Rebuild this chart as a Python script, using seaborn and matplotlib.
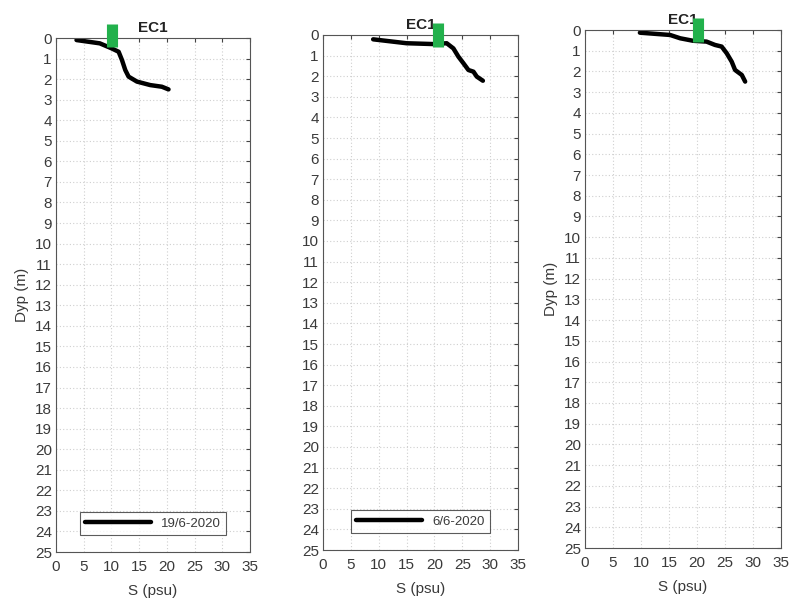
import numpy as np
import pandas as pd
import matplotlib
matplotlib.use("Agg")
import matplotlib.pyplot as plt
import seaborn as sns

# ---- data ----
s1 = [3.7, 7.9, 10.0, 11.3, 11.9, 12.5, 13.1, 14.6, 17.0, 19.1, 20.3]
d1 = [0.10, 0.26, 0.50, 0.67, 1.07, 1.56, 1.88, 2.12, 2.29, 2.37, 2.50]
s2 = [9.0, 15.0, 19.8, 22.2, 23.4, 24.3, 25.2, 26.1, 27.0, 27.6, 28.7]
d2 = [0.21, 0.40, 0.44, 0.40, 0.65, 1.05, 1.37, 1.70, 1.78, 2.02, 2.22]
s3 = [9.8, 15.2, 17.0, 19.3, 21.7, 23.2, 24.4, 25.3, 26.2, 26.8, 28.0, 28.6]
d3 = [0.13, 0.24, 0.40, 0.52, 0.56, 0.72, 0.80, 1.12, 1.53, 1.93, 2.17, 2.49]
green_s = [10.1, 20.7, 20.2]
green_top = [-0.7, -0.57, -0.56]
green_bot = [0.42, 0.57, 0.56]
titles = ["EC1", "EC1", "EC1"]
legend_labels = ["19/6-2020", "6/6-2020", None]
ylabels = ["Dyp (m)", None, "Dyp (m)"]
xlabel = "S (psu)"
xticks = list(range(0, 36, 5))
yticks = list(range(0, 26))

sns.set_theme(style="white")
plt.rcParams['font.family'] = ['Liberation Sans', 'DejaVu Sans']

fig = plt.figure(figsize=(7.9, 6.01), dpi=100)
positions = [
    [56/790, 49/601, 194/790, 514/601],
    [323/790, 51/601, 195/790, 515/601],
    [585/790, 53/601, 196/790, 518/601],
]
series = [(s1, d1), (s2, d2), (s3, d3)]
txt = "#3a3a3a"
for i, pos in enumerate(positions):
    ax = fig.add_axes(pos)
    s, d = series[i]
    df = pd.DataFrame({"S": s, "D": d})
    sns.lineplot(data=df, x="S", y="D", sort=False, estimator=None, ax=ax,
                 color="black", lw=3.2, label=legend_labels[i] if legend_labels[i] else None,
                 legend=bool(legend_labels[i]))
    ax.vlines(green_s[i], green_top[i], green_bot[i], color="#22b14c", lw=8,
              clip_on=False, zorder=5)
    ax.set_xlim(0, 35)
    ax.set_ylim(25, 0)
    ax.set_xticks(xticks)
    ax.set_yticks(yticks)
    ax.grid(True, color="#cfcfcf", ls=(0, (1, 2)), lw=0.8)
    ax.tick_params(direction="in", length=3, top=True, right=True, labelsize=11,
                   colors="#444444", labelcolor=txt, width=0.8)
    ax.tick_params(axis="x", pad=6)
    ax.tick_params(axis="y", pad=3)
    for sp in ax.spines.values():
        sp.set_color("#555555")
        sp.set_linewidth(0.8)
    ax.set_title(titles[i], fontsize=11, fontweight="bold", color="#222222", pad=4)
    ax.set_xlabel(xlabel, fontsize=11, color=txt, labelpad=7)
    if ylabels[i]:
        ax.set_ylabel(ylabels[i], fontsize=11, color=txt, labelpad=4)
    else:
        ax.set_ylabel("")
    if legend_labels[i]:
        leg = ax.legend(loc="lower center", fontsize=9.5, handlelength=5.0,
                        frameon=True, fancybox=False, edgecolor="#333333",
                        borderpad=0.4, bbox_to_anchor=(0.5, 0.02))
        leg.get_frame().set_linewidth(0.8)
        for t in leg.get_texts():
            t.set_color(txt)

fig.savefig("out.png", dpi=100)
